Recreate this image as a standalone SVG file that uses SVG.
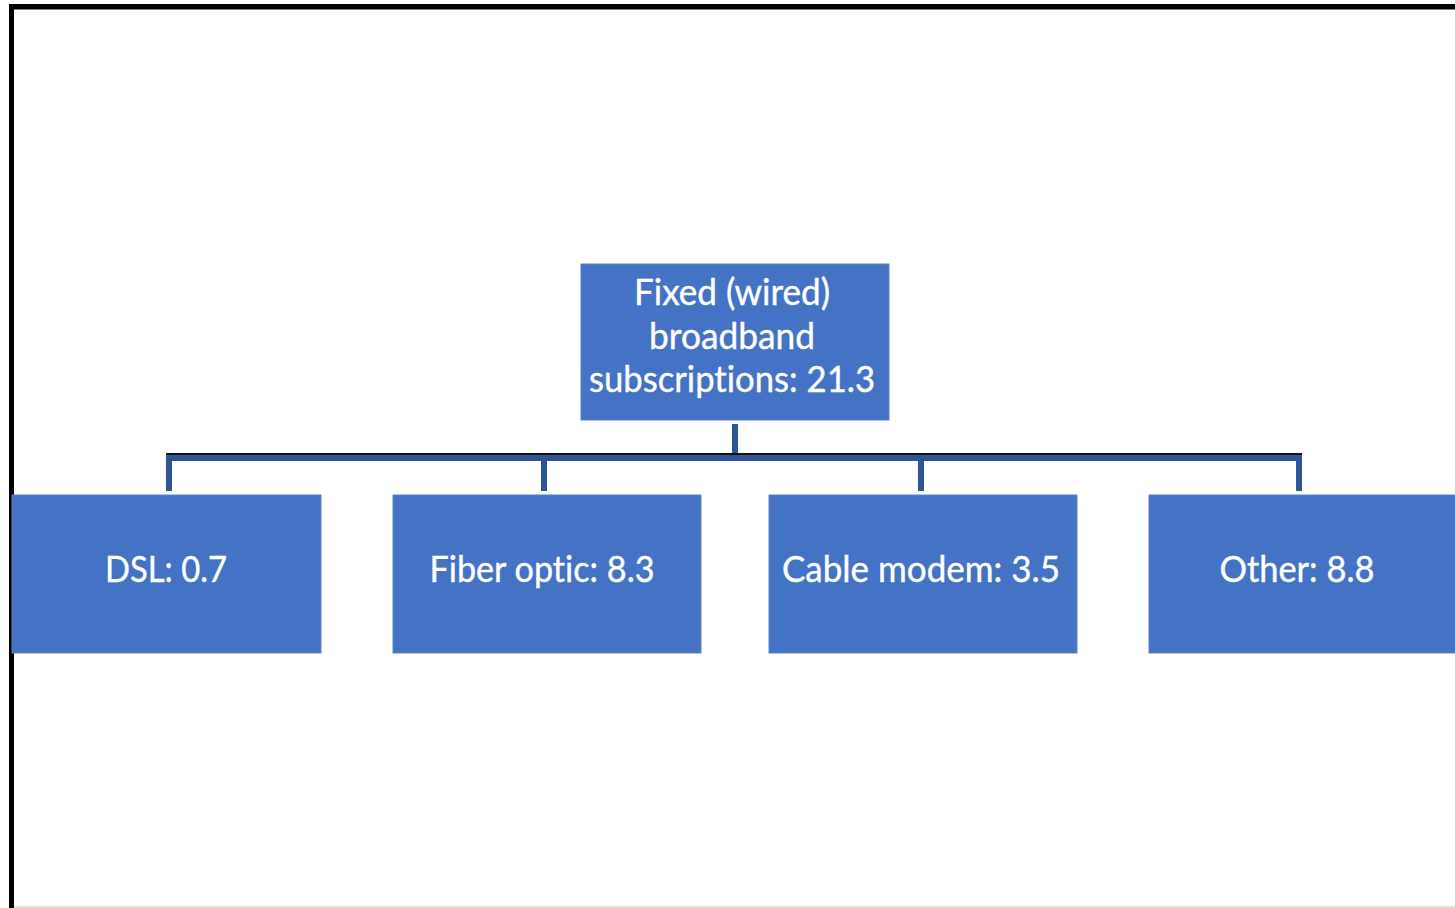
<svg xmlns="http://www.w3.org/2000/svg" width="1455" height="908" viewBox="0 0 1455 908">
<style>
.box{fill:#4472C4;stroke:#5A82CC;stroke-width:1}
.t{font-family:Lato,"Open Sans","Liberation Sans",sans-serif;font-size:36px;fill:#FFFFFF;text-anchor:middle;font-variant-ligatures:none;stroke:#FFFFFF;stroke-width:0.4}
.ln{fill:none;stroke:#2F5597;stroke-width:6;stroke-linejoin:miter}
</style>
<rect x="0" y="0" width="1455" height="908" fill="#FFFFFF"/>
<g id="frame">
<rect x="9" y="4" width="1446" height="5" fill="#000000"/>
<rect x="9" y="4" width="5" height="904" fill="#000000"/>
<rect x="14" y="9" width="1441" height="1" fill="#808080"/>
<rect x="14" y="906" width="1441" height="2" fill="#E0E0E0"/>
</g>
<g id="connectors">
<path class="ln" d="M735 424 V458"/>
<path class="ln" d="M169 491 V458 H1299 V491"/>
<path class="ln" d="M544 458 V491"/>
<path class="ln" d="M921 458 V491"/>
<line x1="166" y1="454" x2="1302" y2="454" stroke="#111111" stroke-width="2"/>
</g>
<g id="root">
<rect class="box" x="581" y="264" width="308" height="156"/>
<text class="t" x="732" y="305" textLength="196" lengthAdjust="spacingAndGlyphs">Fixed (wired)</text>
<text class="t" x="732" y="349" textLength="166" lengthAdjust="spacingAndGlyphs">broadband</text>
<text class="t" x="732" y="392" textLength="286" lengthAdjust="spacingAndGlyphs">subscriptions: 21.3</text>
</g>
<g id="dsl">
<rect class="box" x="12" y="495" width="309" height="158"/>
<text class="t" x="166" y="582" textLength="122" lengthAdjust="spacingAndGlyphs">DSL: 0.7</text>
</g>
<g id="fiber">
<rect class="box" x="393" y="495" width="308" height="158"/>
<text class="t" x="542" y="582" textLength="225" lengthAdjust="spacingAndGlyphs">Fiber optic: 8.3</text>
</g>
<g id="cable">
<rect class="box" x="769" y="495" width="308" height="158"/>
<text class="t" x="921" y="582" textLength="278" lengthAdjust="spacingAndGlyphs">Cable modem: 3.5</text>
</g>
<g id="other">
<rect class="box" x="1149" y="495" width="310" height="158"/>
<text class="t" x="1297" y="582" textLength="155" lengthAdjust="spacingAndGlyphs">Other: 8.8</text>
</g>
</svg>
